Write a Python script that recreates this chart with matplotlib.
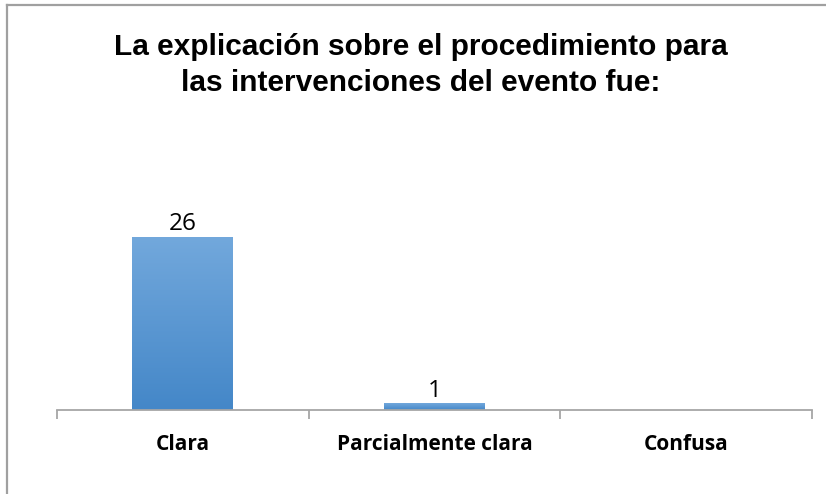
import matplotlib

matplotlib.use('Agg')
import matplotlib.pyplot as plt
import numpy as np
from matplotlib.colors import LinearSegmentedColormap

categories = ['Clara', 'Parcialmente clara', 'Confusa']
values = [26, 1, 0]
title = 'La explicación sobre el procedimiento para\nlas intervenciones del evento fue:'

W, H = 826, 494
fig = plt.figure(figsize=(W / 100, H / 100), dpi=100)
ax = fig.add_axes([57 / W, 84 / H, (812 - 57) / W, 199.6 / H])

x = np.arange(len(categories))
bars = ax.bar(x, values, width=0.4, color='none', edgecolor='none')

# vertical gradient fill for each bar
cmap = LinearSegmentedColormap.from_list('bar', ['#4487c8', '#72a8dc'])
grad = np.linspace(0, 1, 256).reshape(-1, 1)
for b in bars:
    h = b.get_height()
    if h <= 0:
        continue
    x0 = b.get_x()
    ax.imshow(grad, cmap=cmap, origin='lower', aspect='auto',
              extent=[x0, x0 + b.get_width(), 0, h], zorder=2)
    ax.annotate(f'{h:g}', (x0 + b.get_width() / 2, h), xytext=(0, 0.5),
                textcoords='offset points', ha='center', va='bottom',
                fontsize=17.5, family='Open Sans', color='#000000')

ax.set_xlim(-0.5, len(categories) - 0.5)
ax.set_ylim(0, 30)
ax.set_yticks([])
for s in ['top', 'right', 'left']:
    ax.spines[s].set_visible(False)
ax.spines['bottom'].set_color('#a6a6a6')
ax.spines['bottom'].set_linewidth(1.3)

ax.set_xticks(x)
ax.set_xticklabels(categories, fontsize=15, fontweight='bold', family='Open Sans')
ax.tick_params(axis='x', which='major', length=0, pad=17)
ax.set_xticks(np.arange(len(categories) + 1) - 0.5, minor=True)
ax.tick_params(axis='x', which='minor', length=6.5, width=1.3, color='#a6a6a6')

fig.text(421 / W, 1 - 65 / H, title, ha='center', va='center', fontsize=21.5,
         fontweight='bold', family='Liberation Sans', linespacing=1.38)

# chart frame: top and left edges only
fig.add_artist(plt.Line2D([7 / W, 7 / W], [0, 1 - 5 / H], color='#a0a0a0', lw=1.6,
                          transform=fig.transFigure))
fig.add_artist(plt.Line2D([7 / W, 1], [1 - 5 / H, 1 - 5 / H], color='#a0a0a0', lw=1.6,
                          transform=fig.transFigure))

fig.savefig('out.png', dpi=100)
